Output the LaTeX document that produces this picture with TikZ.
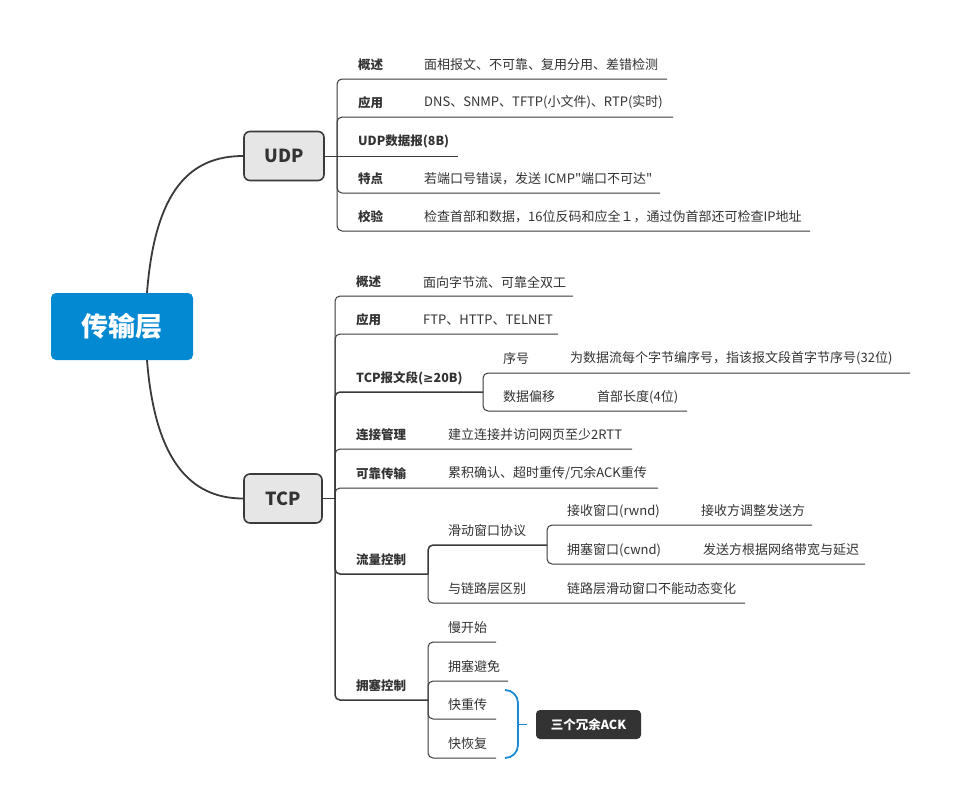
\documentclass[tikz,border=0pt]{standalone}
\usepackage{fontspec}
\setmainfont{Noto Sans CJK SC}[Ligatures=TeXOff]
\newfontfamily\symf{DejaVu Sans}
\definecolor{linec}{HTML}{3A3A3A}
\definecolor{txtc}{HTML}{333333}
\definecolor{rootc}{HTML}{0388D2}
\definecolor{boxc}{HTML}{E6E6E6}
\definecolor{bracec}{HTML}{1A8AD8}
\newcommand\tline[4]{%
  \coordinate (#4) at (#3,#2);
  \draw[conn] (#1) |- (#4);
}
\newcommand\tlinethick[4]{%
  \coordinate (#4) at (#3,#2);
  \draw[conn,line width=1.5pt] (#1) |- (#4);
}
\tikzset{
  conn/.style={draw=linec, line width=1pt, rounded corners=5pt},
  rootconn/.style={draw=linec, line width=1.8pt},
  lbl/.style={font=\bfseries\fontsize{12.5}{14}\selectfont, text=txtc, inner sep=0pt, anchor=west},
  val/.style={font=\fontsize{13}{15}\selectfont, text=txtc, inner sep=0pt, anchor=west},
  rootbox/.style={fill=rootc, rounded corners=5pt, minimum width=142pt, minimum height=67pt,
    text=white, font=\bfseries\fontsize{27}{30}\selectfont, inner sep=0pt},
  mainbox/.style={fill=boxc, draw=linec, line width=1.6pt, rounded corners=6pt,
    minimum height=49pt, text=txtc, font=\bfseries\fontsize{18}{20}\selectfont, inner sep=0pt},
  notebox/.style={fill=txtc, rounded corners=4pt, minimum width=105pt, minimum height=29pt,
    text=white, font=\bfseries\fontsize{12.5}{14}\selectfont, inner sep=0pt},
  bracestyle/.style={draw=bracec, line width=1.8pt}
}
\begin{document}
\begin{tikzpicture}[x=1pt,y=-1pt]
\useasboundingbox (0,0) rectangle (961,809);
\fill[white] (0,0) rectangle (961,809);

% root and main topics
\node[rootbox] (root) at (122,326.5) {传输层};
\node[mainbox, minimum width=80pt] (udp) at (284,156) {UDP};
\node[mainbox, minimum width=78pt] (tcp) at (283,498.5) {TCP};

\draw[rootconn] ([xshift=25pt]root.north) .. controls (155,190) and (190,156) .. (udp.west);
\draw[rootconn] ([xshift=25pt]root.south) .. controls (155,460) and (190,498.5) .. (tcp.west);

% ---------------- UDP ----------------
\coordinate (udpb) at (337,156);
\coordinate (u3e) at (458,156);
\draw[conn] (udp.east) -- (u3e);
\tline{udpb}{79}{667}{u1e}
\tline{udpb}{117}{673}{u2e}
\tline{udpb}{193}{660}{u4e}
\tline{udpb}{231}{810}{u5e}

\node[lbl] (u1l) at (358,64.5) {概述};
\node[val] (u1v) at (424,64.5) {面相报文、不可靠、复用分用、差错检测};
\node[lbl] (u2l) at (358,102.5) {应用};
\node[val] (u2v) at (424,102.5) {DNS、SNMP、TFTP(小文件)、RTP(实时)};
\node[lbl] (u3l) at (358,141) {UDP数据报(8B)};
\node[lbl] (u4l) at (358,178.5) {特点};
\node[val] (u4v) at (424,178.5) {若端口号错误，发送 ICMP"端口不可达"};
\node[lbl] (u5l) at (358,216.5) {校验};
\node[val] (u5v) at (424,216.5) {检查首部和数据，16位反码和应全１，通过伪首部还可检查IP地址};

% ---------------- TCP ----------------
\coordinate (tcpb) at (335,498.5);
\draw[conn] (tcp.east) -- (tcpb);
\tline{tcpb}{296}{573}{t1e}
\tline{tcpb}{334}{558}{t2e}
\tlinethick{tcpb}{392}{483}{segb}
\tline{tcpb}{449}{632}{t4e}
\tline{tcpb}{488}{658}{t5e}
\tlinethick{tcpb}{574}{428}{flowb}
\tlinethick{tcpb}{700}{428}{congb}

\node[lbl] (t1l) at (356,282) {概述};
\node[val] (t1v) at (423,282) {面向字节流、可靠全双工};
\node[lbl] (t2l) at (356,320) {应用};
\node[val] (t2v) at (423,320) {FTP、HTTP、TELNET};
\node[lbl] (t3l) at (356,378) {TCP报文段({\symf ≥}20B)};
\node[lbl] (t4l) at (356,435) {连接管理};
\node[val] (t4v) at (448,435) {建立连接并访问网页至少2RTT};
\node[lbl] (t5l) at (356,473.5) {可靠传输};
\node[val] (t5v) at (448,473.5) {累积确认、超时重传/冗余ACK重传};
\node[lbl] (t6l) at (356,560) {流量控制};
\node[lbl] (t7l) at (356,686) {拥塞控制};

% TCP segment children
\tline{segb}{373}{910}{s1e}
\tline{segb}{411}{687}{s2e}
\node[val] (s1l) at (503,358.5) {序号};
\node[val] (s1v) at (570,358.5) {为数据流每个字节编序号，指该报文段首字节序号(32位)};
\node[val] (s2l) at (503,397) {数据偏移};
\node[val] (s2v) at (597,397) {首部长度(4位)};

% flow control children
\tlinethick{flowb}{545}{547}{slideb}
\tline{flowb}{603}{745}{f2e}
\node[val] (f1l) at (448,531) {滑动窗口协议};
\node[val] (f2l) at (448,589) {与链路层区别};
\node[val] (f2v) at (567,589) {链路层滑动窗口不能动态变化};

\tline{slideb}{525}{812}{w1e}
\tline{slideb}{564}{865}{w2e}
\node[val] (w1l) at (567,511) {接收窗口(rwnd)};
\node[val] (w1v) at (701,511) {接收方调整发送方};
\node[val] (w2l) at (567,550) {拥塞窗口(cwnd)};
\node[val] (w2v) at (703,550) {发送方根据网络带宽与延迟};

% congestion control children
\tline{congb}{642}{496}{c1e}
\tline{congb}{681}{508}{c2e}
\tline{congb}{719}{496}{c3e}
\tline{congb}{758}{496}{c4e}
\node[val] (c1l) at (448,627.5) {慢开始};
\node[val] (c2l) at (448,666.5) {拥塞避免};
\node[val] (c3l) at (448,704.5) {快重传};
\node[val] (c4l) at (448,744) {快恢复};

% brace and note
\node[notebox] (ack) at (588.5,724.5) {三个冗余ACK};
\coordinate (btop) at (505,690);
\coordinate (bbot) at (505,758);
\coordinate (bmid) at (518,724.5);
\coordinate (btip) at (527,724.5);
\draw[bracestyle] (btop) to[out=0,in=90] (518,703) -- (518,745) to[out=-90,in=0] (bbot);
\draw[bracestyle] (bmid) -- (btip);
\end{tikzpicture}
\end{document}
